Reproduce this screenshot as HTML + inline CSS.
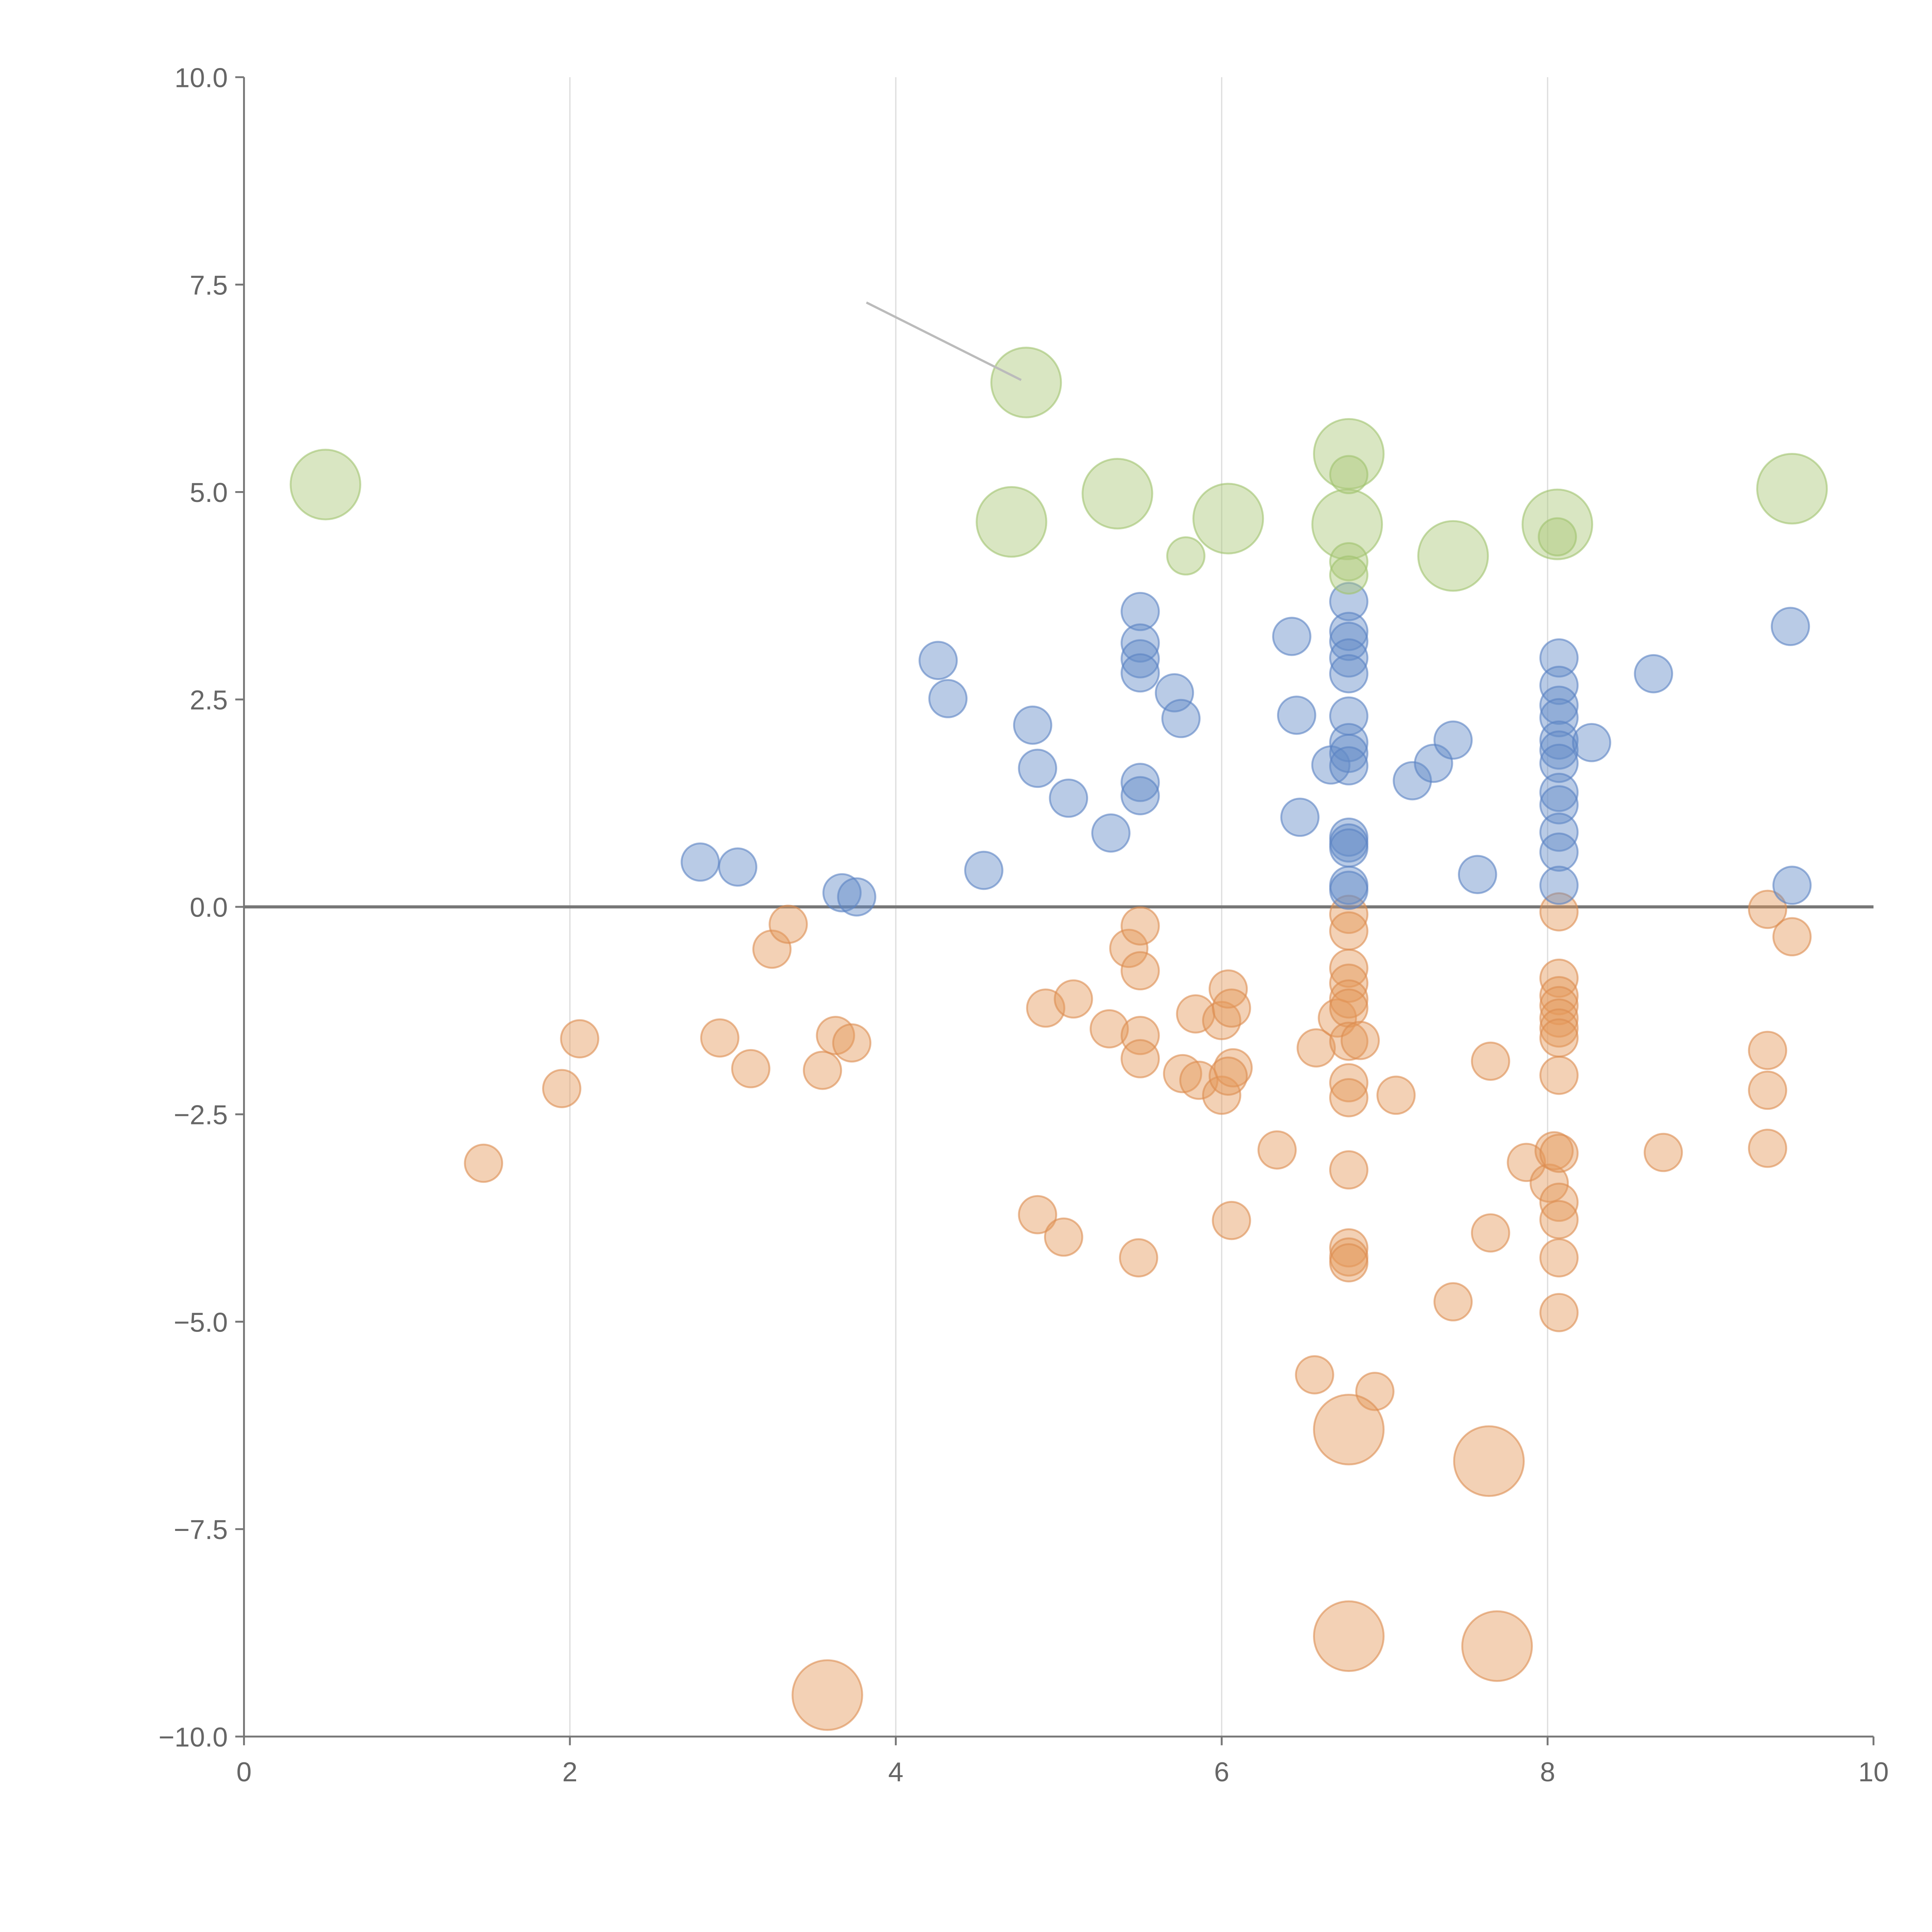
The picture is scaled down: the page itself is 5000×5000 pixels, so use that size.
<!DOCTYPE html>
<html><head><meta charset="utf-8"><style>
html,body{margin:0;padding:0;background:#fff;}
svg{display:block;}
text{font-family:"Liberation Sans",sans-serif;fill:#666;}
</style></head><body>
<svg id="chart" width="5000" height="5000" viewBox="0 0 1552 1552" xmlns="http://www.w3.org/2000/svg">
<g id="grid"></g>
<g id="axes"></g>
<g id="marks"></g>
</svg>
<script>
const xTicks=[0,2,4,6,8,10];
const yTicks=[10,7.5,5,2.5,0,-2.5,-5,-7.5,-10];
const yTickLabels=["10.0","7.5","5.0","2.5","0.0","\u22122.5","\u22125.0","\u22127.5","\u221210.0"];
const greenX=[0.50,4.80,4.71,5.36,6.04,6.78,6.77,7.42,8.06,9.50,5.78,6.78,6.78,6.78,8.06];
const greenY=[5.09,6.32,4.64,4.98,4.68,5.46,4.61,4.23,4.61,5.04,4.23,5.21,4.16,4.00,4.46];
const greenS=[2,2,2,2,2,2,2,2,2,2,1,1,1,1,1];
const blueX=[2.80,3.03,3.67,3.76,4.26,4.32,4.54,4.84,4.87,5.06,5.32,5.50,5.50,5.50,5.50,5.50,5.50,5.71,5.75,6.43,6.46,6.48,6.67,6.78,6.78,6.78,6.78,6.78,6.78,6.78,6.78,6.78,6.78,6.78,6.78,6.78,6.78,7.17,7.30,7.42,7.57,8.07,8.07,8.07,8.07,8.07,8.07,8.07,8.07,8.07,8.07,8.07,8.07,8.27,8.65,9.49,9.50];
const blueY=[0.54,0.48,0.17,0.12,2.97,2.51,0.44,2.19,1.67,1.31,0.89,3.56,3.18,2.99,2.82,1.50,1.34,2.58,2.27,3.26,2.31,1.08,1.71,3.68,3.32,3.20,3.00,2.81,2.30,1.98,1.85,1.70,0.84,0.77,0.71,0.26,0.20,1.52,1.73,2.01,0.39,3.00,2.67,2.43,2.28,2.01,1.89,1.73,1.38,1.23,0.90,0.66,0.26,1.98,2.81,3.38,0.26];
const orangeX=[1.47,1.95,2.06,2.92,3.11,3.24,3.34,3.55,3.63,3.73,4.87,4.92,5.03,5.09,5.31,5.43,5.49,5.50,5.50,5.50,5.50,5.76,5.84,5.86,6.00,6.00,6.04,6.06,6.06,6.07,6.04,6.34,6.57,6.58,6.71,6.78,6.78,6.78,6.78,6.78,6.78,6.78,6.85,6.78,6.78,6.78,6.78,6.78,6.78,6.94,7.07,7.42,7.65,7.65,7.87,8.01,8.04,8.07,8.07,8.07,8.07,8.07,8.07,8.07,8.07,8.07,8.07,8.07,8.07,8.07,8.71,9.35,9.35,9.35,9.35,9.50,6.78,7.64,6.78,7.69,3.58];
const orangeY=[-3.09,-2.19,-1.59,-1.58,-1.95,-0.51,-0.21,-1.97,-1.55,-1.64,-3.71,-1.22,-3.98,-1.11,-1.47,-0.50,-4.23,-0.23,-0.77,-1.55,-1.83,-2.01,-1.29,-2.09,-1.37,-2.27,-0.99,-3.78,-1.22,-1.94,-2.04,-2.93,-5.64,-1.70,-1.34,-0.09,-0.29,-0.74,-0.92,-1.11,-1.22,-1.62,-1.61,-2.12,-2.30,-3.17,-4.11,-4.22,-4.29,-5.84,-2.27,-4.76,-1.86,-3.93,-3.08,-3.33,-2.94,-0.06,-0.86,-1.07,-1.19,-1.34,-1.46,-1.58,-2.03,-2.97,-3.56,-3.77,-4.23,-4.89,-2.96,-0.03,-1.73,-2.21,-2.91,-0.36,-6.30,-6.68,-8.79,-8.91,-9.50];
const orangeS=orangeX.map((_,i)=>i>=orangeX.length-5?2:1);

const X0=196,X1=1505,Y0=1395,Y1=62;
function sx(v){return X0+(v-0)/(10-0)*(X1-X0);}
function sy(v){return Y0-(v+10)/20*(Y0-Y1);}
function sr(s){return s===2?28:15;}
const NS="http://www.w3.org/2000/svg";
function mk(tag,attrs,parent){const e=document.createElementNS(NS,tag);for(const k in attrs)e.setAttribute(k,attrs[k]);parent.appendChild(e);return e;}
const grid=document.getElementById('grid'),axes=document.getElementById('axes'),marks=document.getElementById('marks');
xTicks.forEach(t=>{
  if(t>0&&t<10){const g=mk('line',{x1:sx(t),x2:sx(t),y1:Y1,y2:Y0,stroke:'#ddd','stroke-width':1},grid);
  
  }
  const tk=mk('line',{x1:sx(t),x2:sx(t),y1:Y0,y2:Y0+7,stroke:'#777','stroke-width':1.5},axes);
  
  
  const tx=mk('text',{x:sx(t),y:Y0+36,'text-anchor':'middle','font-size':22},axes);
  tx.textContent=String(t);
  
  
});
yTicks.forEach((t,i)=>{
  const tk=mk('line',{x1:X0-7,x2:X0,y1:sy(t),y2:sy(t),stroke:'#777','stroke-width':1.5},axes);
  
  
  const tx=mk('text',{x:X0-13,y:sy(t)+8,'text-anchor':'end','font-size':22},axes);
  tx.textContent=yTickLabels[i];
  
  
});
const xa=mk('line',{x1:X0,x2:X1,y1:Y0,y2:Y0,stroke:'#777','stroke-width':1.5},axes);


const ya=mk('line',{x1:X0,x2:X0,y1:Y1,y2:Y0,stroke:'#777','stroke-width':1.5},axes);


const zl=mk('line',{x1:X0,x2:X1,y1:sy(0),y2:sy(0),stroke:'#777','stroke-width':2.5},axes);


function series(xs,ys,ss,fill,stroke,name){
  xs.forEach((x,i)=>{
    const c=mk('circle',{cx:sx(x),cy:sy(ys[i]),r:sr(ss[i]),fill:fill,stroke:stroke,'stroke-width':1.5},marks);
    
    
  });
}
series(orangeX,orangeY,orangeS,'rgba(228,152,92,0.45)','rgba(220,140,80,0.6)','orange-bubble');
series(blueX,blueY,blueX.map(()=>1),'rgba(100,140,200,0.45)','rgba(90,130,195,0.6)','blue-bubble');
series(greenX,greenY,greenS,'rgba(170,200,120,0.45)','rgba(160,195,110,0.6)','green-bubble');
const ll=mk('line',{x1:696,y1:243,x2:sx(greenX[1])-4,y2:sy(greenY[1])-2,stroke:'#bbb','stroke-width':1.8},marks);


</script>
</body></html>
